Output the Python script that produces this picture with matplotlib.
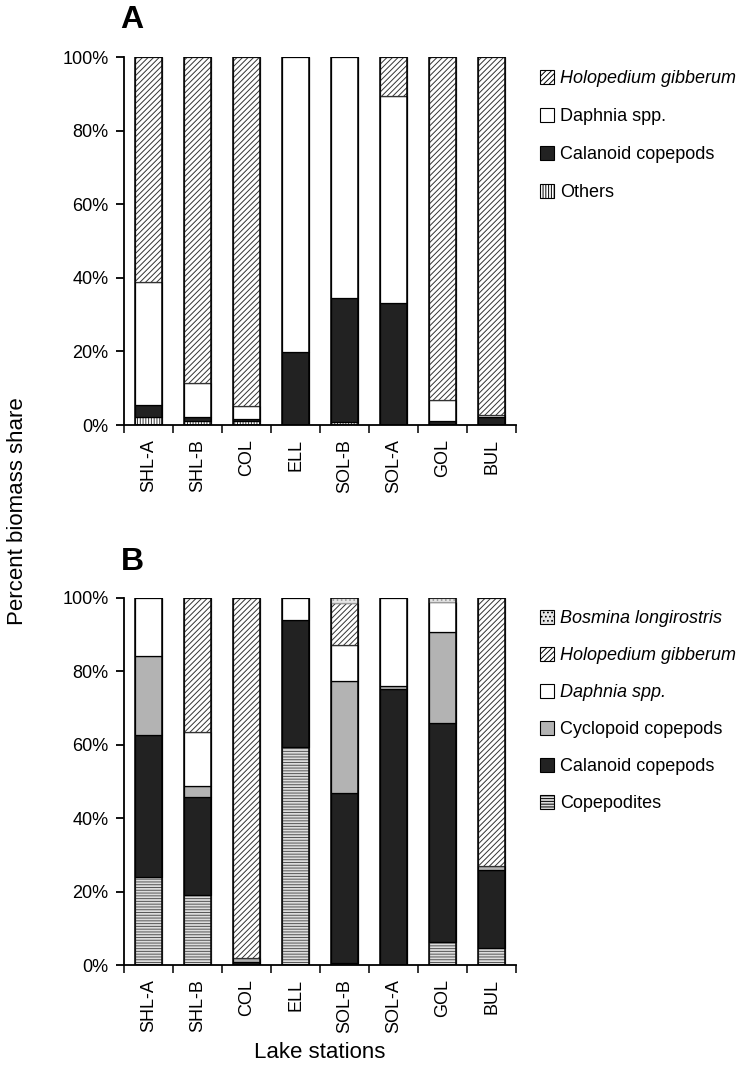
import numpy as np
import matplotlib
matplotlib.use('Agg')
import matplotlib.pyplot as plt
from matplotlib.patches import Patch

plt.rcParams['font.family'] = ['Liberation Sans', 'DejaVu Sans']
plt.rcParams['hatch.linewidth'] = 0.7

stations = ['SHL-A', 'SHL-B', 'COL', 'ELL', 'SOL-B', 'SOL-A', 'GOL', 'BUL']

# panel A (percent biomass share), bottom to top
a_others = [2.1, 1.2, 1.0, 0.0, 0.8, 0.0, 0.0, 0.0]
a_calanoid = [3.3, 0.9, 0.5, 19.9, 33.6, 33.1, 1.0, 2.2]
a_daphnia = [33.5, 9.2, 3.7, 80.1, 65.6, 56.3, 5.7, 0.6]
a_holopedium = [61.1, 88.7, 94.8, 0.0, 0.0, 10.6, 93.3, 97.2]

# panel B, bottom to top
b_copepodites = [24.1, 19.1, 0.0, 59.5, 0.5, 0.0, 6.4, 4.5]
b_calanoid = [38.6, 26.6, 0.8, 34.4, 46.5, 75.2, 59.5, 21.4]
b_cyclopoid = [21.6, 3.1, 1.0, 0.0, 30.4, 0.7, 24.7, 1.1]
b_daphnia = [15.7, 14.8, 0.0, 6.1, 9.9, 24.1, 8.2, 0.0]
b_holopedium = [0.0, 36.4, 98.2, 0.0, 11.3, 0.0, 0.0, 73.0]
b_bosmina = [0.0, 0.0, 0.0, 0.0, 1.4, 0.0, 1.2, 0.0]

styles = {
    'others': dict(facecolor='white', hatch='||||||', edgecolor='#333333'),
    'calanoid': dict(facecolor='#222222', hatch=None, edgecolor='black'),
    'daphnia': dict(facecolor='white', hatch=None, edgecolor='black'),
    'holopedium': dict(facecolor='white', hatch='//////', edgecolor='#333333'),
    'copepodites': dict(facecolor='#dddddd', hatch='------', edgecolor='#555555'),
    'cyclopoid': dict(facecolor='#b3b3b3', hatch=None, edgecolor='black'),
    'bosmina': dict(facecolor='#e6e6e6', hatch='....', edgecolor='#999999'),
}


def stack(ax, layers):
    x = np.arange(len(stations))
    bottom = np.zeros(len(stations))
    for key, vals in layers:
        vals = np.array(vals)
        st = styles[key]
        bars = ax.bar(x, vals, width=0.57, bottom=bottom, color=st['facecolor'],
                      hatch=st['hatch'], edgecolor=st['edgecolor'], linewidth=0.9)
        for b, v in zip(bars, vals):
            if v == 0:
                b.set_visible(False)
        bottom += vals
    # outline each full bar
    ax.bar(x, bottom, width=0.57, fill=False, edgecolor='black', linewidth=1.1)


def style_axes(ax):
    ax.set_xlim(-0.5, 7.5)
    ax.set_ylim(0, 100)
    ax.set_yticks(range(0, 101, 20))
    ax.set_yticklabels([f'{v}%' for v in range(0, 101, 20)], fontsize=13)
    ax.set_xticks(range(len(stations)))
    ax.set_xticklabels(stations, rotation=90, fontsize=13)
    ax.set_xticks(np.arange(-0.5, 8, 1), minor=True)
    ax.tick_params(axis='x', which='major', length=0, pad=10)
    ax.tick_params(axis='x', which='minor', length=6, direction='out', width=1.1)
    ax.tick_params(axis='y', length=6, width=1.3, pad=5)
    for s in ['top', 'right']:
        ax.spines[s].set_visible(False)
    for s in ['left', 'bottom']:
        ax.spines[s].set_linewidth(1.3)


fig = plt.figure(figsize=(7.45, 10.73), dpi=100)
axA = fig.add_axes([124 / 745, 1 - 425 / 1073, 392 / 745, 368 / 1073])
axB = fig.add_axes([124 / 745, 1 - 965 / 1073, 392 / 745, 367 / 1073])

stack(axA, [('others', a_others), ('calanoid', a_calanoid),
            ('daphnia', a_daphnia), ('holopedium', a_holopedium)])
stack(axB, [('copepodites', b_copepodites), ('calanoid', b_calanoid),
            ('cyclopoid', b_cyclopoid), ('daphnia', b_daphnia),
            ('holopedium', b_holopedium), ('bosmina', b_bosmina)])
style_axes(axA)
style_axes(axB)


def handle(key):
    st = styles[key]
    return Patch(facecolor=st['facecolor'], hatch=st['hatch'], edgecolor='black', linewidth=0.8)


legA = [('holopedium', 'Holopedium gibberum', 'italic'), ('daphnia', 'Daphnia spp.', 'normal'),
        ('calanoid', 'Calanoid copepods', 'normal'), ('others', 'Others', 'normal')]
legB = [('bosmina', 'Bosmina longirostris', 'italic'), ('holopedium', 'Holopedium gibberum', 'italic'),
        ('daphnia', 'Daphnia spp.', 'italic'), ('cyclopoid', 'Cyclopoid copepods', 'normal'),
        ('calanoid', 'Calanoid copepods', 'normal'), ('copepodites', 'Copepodites', 'normal')]

for ax, items, top, sp in [(axA, legA, 70, 1.15), (axB, legB, 610, 1.1)]:
    leg = fig.legend([handle(k) for k, _, _ in items], [l for _, l, _ in items],
                     loc='upper left', bbox_to_anchor=(540 / 745, 1 - top / 1073),
                     frameon=False, fontsize=13, handlelength=0.8, handleheight=0.8,
                     handletextpad=0.3, labelspacing=sp, borderaxespad=0, borderpad=0)
    for t, (_, _, fs) in zip(leg.get_texts(), items):
        t.set_fontstyle(fs)

fig.text(132 / 745, 1 - 20 / 1073, 'A', fontsize=23, fontweight='bold', ha='center', va='center')
fig.text(132 / 745, 1 - 562 / 1073, 'B', fontsize=23, fontweight='bold', ha='center', va='center')
fig.text(18 / 745, 1 - 511 / 1073, 'Percent biomass share', fontsize=16, rotation=90,
         ha='center', va='center')
fig.text(320 / 745, 1 - 1052 / 1073, 'Lake stations', fontsize=16, ha='center', va='center')

fig.savefig('out.png', dpi=100)
